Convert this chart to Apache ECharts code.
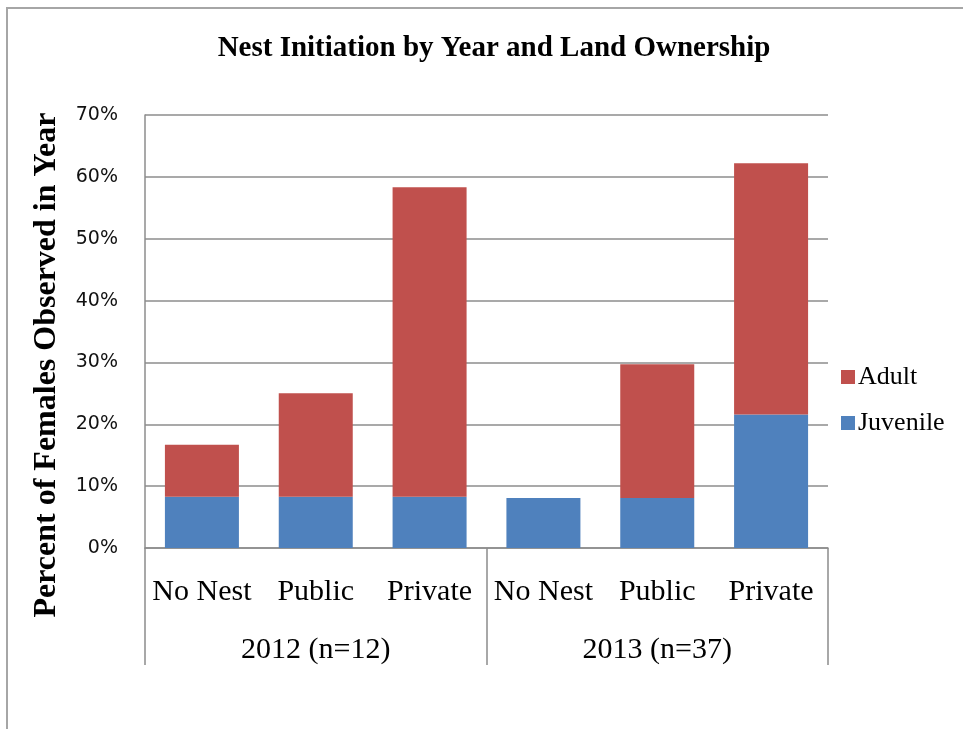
<!DOCTYPE html>
<html>
<head>
<meta charset="utf-8">
<script src="https://cdn.jsdelivr.net/npm/echarts@6/dist/echarts.min.js"></script>
<style>html,body{margin:0;padding:0;background:#fff}#c{width:963px;height:729px}</style>
</head>
<body>
<div id="c"></div>
<script>
const categories = ['No Nest', 'Public', 'Private', 'No Nest', 'Public', 'Private'];
const groups = ['2012 (n=12)', '2013 (n=37)'];
const juvenile = [8.3, 8.3, 8.3, 8.1, 8.1, 21.6];
const adult = [8.4, 16.7, 50.0, 0, 21.6, 40.6];
const yTicks = { min: 0, max: 70, interval: 10 };

const gray = '#8c8c8c';
const serif = 'Liberation Serif';
const chart = echarts.init(document.getElementById('c'));
chart.setOption({
  animation: false,
  backgroundColor: '#fff',
  title: {
    text: 'Nest Initiation by Year and Land Ownership',
    left: 489, top: 29, textAlign: 'center',
    textStyle: { fontFamily: serif, fontWeight: 'bold', fontSize: 29, color: '#000' }
  },
  graphic: [
    { type: 'rect', shape: { x: 7, y: 8, width: 1000, height: 800 }, style: { fill: 'none', stroke: '#a6a6a6', lineWidth: 2 }, silent: true },
    { type: 'text', x: 47, y: 365, rotation: Math.PI / 2,
      style: { text: 'Percent of Females Observed in Year', font: 'bold 32px "Liberation Serif"', fill: '#000', align: 'center', verticalAlign: 'middle' } }
  ],
  legend: {
    data: ['Adult', 'Juvenile'],
    orient: 'vertical', left: 836, top: 359,
    itemWidth: 14, itemHeight: 14, itemGap: 20, icon: 'rect',
    textStyle: { fontFamily: serif, fontSize: 26, color: '#000', lineHeight: 26, padding: [0, 0, 0, -2] }
  },
  grid: { left: 145, right: 135, top: 115, bottom: 181, containLabel: false },
  xAxis: [
    { type: 'category', data: categories, position: 'bottom',
      axisLine: { show: true, lineStyle: { color: gray, width: 1.5 } },
      axisTick: { show: false },
      axisLabel: { interval: 0, margin: 29, fontFamily: serif, fontSize: 30, color: '#000' } },
    { type: 'category', data: groups, position: 'bottom',
      axisLine: { show: false },
      axisTick: { show: true, length: 117, lineStyle: { color: gray, width: 1.5 } },
      axisLabel: { interval: 0, margin: 87, fontFamily: serif, fontSize: 30, color: '#000' } }
  ],
  yAxis: {
    type: 'value', min: yTicks.min, max: yTicks.max, interval: yTicks.interval,
    axisLine: { show: true, lineStyle: { color: gray, width: 1.5 } },
    axisTick: { show: false },
    splitLine: { show: true, lineStyle: { color: gray, width: 1.5 } },
    axisLabel: { formatter: '{value}%', margin: 27, fontFamily: 'DejaVu Sans', fontSize: 19, color: '#111' }
  },
  series: [
    { name: 'Juvenile', type: 'bar', stack: 'a', data: juvenile, barWidth: 74, itemStyle: { color: '#4F81BD' } },
    { name: 'Adult', type: 'bar', stack: 'a', data: adult, barWidth: 74, itemStyle: { color: '#C0504D' } }
  ]
});
</script>
</body>
</html>
